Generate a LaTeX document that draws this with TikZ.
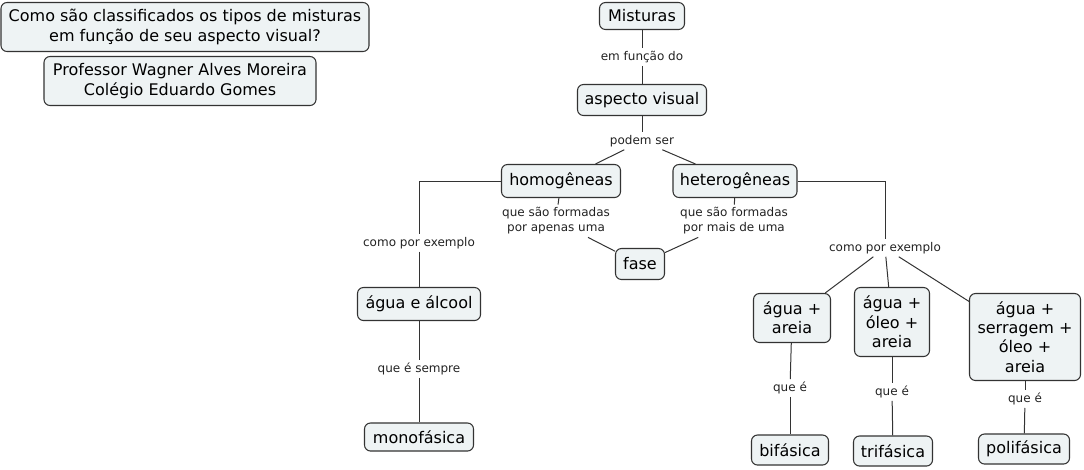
\documentclass[tikz,border=0pt]{standalone}
\usepackage{fontspec}
\setmainfont{DejaVu Sans}
\definecolor{boxfill}{HTML}{EEF3F4}
\definecolor{boxline}{HTML}{333333}
\definecolor{lbltext}{HTML}{222222}
\begin{document}
\begin{tikzpicture}[x=0.75pt,y=-0.75pt,
  concept/.style={draw=boxline, fill=boxfill, rounded corners=4.5pt, line width=0.8pt,
    inner xsep=2pt, inner ysep=2pt, align=center,
    font=\fontsize{12}{14.5}\selectfont, text=black},
  link/.style={inner xsep=1.5pt, inner ysep=2pt, align=center,
    font=\fontsize{9}{11.3}\selectfont, text=lbltext},
  conn/.style={draw=boxline, line width=0.75pt}]
\useasboundingbox (0,0) rectangle (1084,469);

% concepts
\node[concept, minimum width=276pt, minimum height=36.75pt] (q) at (185,27)
  {Como são classificados os tipos de misturas\\em função de seu aspecto visual?};
\node[concept, minimum width=204pt, minimum height=36.75pt] (prof) at (180,81)
  {Professor Wagner Alves Moreira\\Colégio Eduardo Gomes};
\node[concept, minimum width=63.75pt, minimum height=20.25pt] (mist) at (642,16) {Misturas};
\node[concept, minimum width=96.75pt, minimum height=23.25pt] (asp) at (642,100) {aspecto visual};
\node[concept, minimum width=89.25pt, minimum height=24.75pt] (homo) at (561,181) {homogêneas};
\node[concept, minimum width=93pt, minimum height=24.75pt] (hetero) at (735,181) {heterogêneas};
\node[concept, minimum width=36.75pt, minimum height=23.25pt] (fase) at (640,264) {fase};
\node[concept, minimum width=92.25pt, minimum height=24.75pt] (aa) at (419,304) {água e álcool};
\node[concept, minimum width=81.75pt, minimum height=21pt] (mono) at (419,437) {monofásica};
\node[concept, minimum width=57.75pt, minimum height=36.75pt] (a1) at (792,318) {água +\\areia};
\node[concept, minimum width=56.25pt, minimum height=51.75pt] (a2) at (892,322) {água +\\óleo +\\areia};
\node[concept, minimum width=83.25pt, minimum height=65.25pt] (a3) at (1025,337) {água +\\serragem +\\óleo +\\areia};
\node[concept, minimum width=57.75pt, minimum height=22.5pt] (bi) at (790,450) {bifásica};
\node[concept, minimum width=59.25pt, minimum height=22.5pt] (tri) at (893,451) {trifásica};
\node[concept, minimum width=68.25pt, minimum height=22.5pt] (poli) at (1024,449) {polifásica};

% linking phrases
\node[link] (l1) at (642,57) {em função do};
\node[link] (l2) at (642,141) {podem ser};
\node[link] (l3) at (556,221) {que são formadas\\por apenas uma};
\node[link] (l4) at (734,221) {que são formadas\\por mais de uma};
\node[link] (ll) at (419,243) {como por exemplo};
\node[link] (lr) at (885,248) {como por exemplo};
\node[link] (ls) at (419,369) {que é sempre};
\node[link] (q1) at (790,388) {que é};
\node[link] (q2) at (892,392) {que é};
\node[link] (q3) at (1025,399) {que é};

% connectors
\draw[conn] (mist) -- (l1);
\draw[conn] (l1) -- (asp);
\draw[conn] (asp) -- (l2);
\draw[conn] (l2) -- (homo);
\draw[conn] (l2) -- (hetero);
\draw[conn] (homo) -- (l3);
\draw[conn] (l3) -- (fase);
\draw[conn] (hetero) -- (l4);
\draw[conn] (l4) -- (fase);
\draw[conn] (homo.west) -| (ll.north);
\draw[conn] (ll) -- (aa);
\draw[conn] (aa) -- (ls);
\draw[conn] (ls) -- (mono);
\draw[conn] (hetero.east) -| (lr.north);
\draw[conn] (lr) -- (a1);
\draw[conn] (lr) -- (a2);
\draw[conn] (lr) -- (a3);
\draw[conn] (a1) -- (q1);
\draw[conn] (q1) -- (bi);
\draw[conn] (a2) -- (q2);
\draw[conn] (q2) -- (tri);
\draw[conn] (a3) -- (q3);
\draw[conn] (q3) -- (poli);
\end{tikzpicture}
\end{document}
